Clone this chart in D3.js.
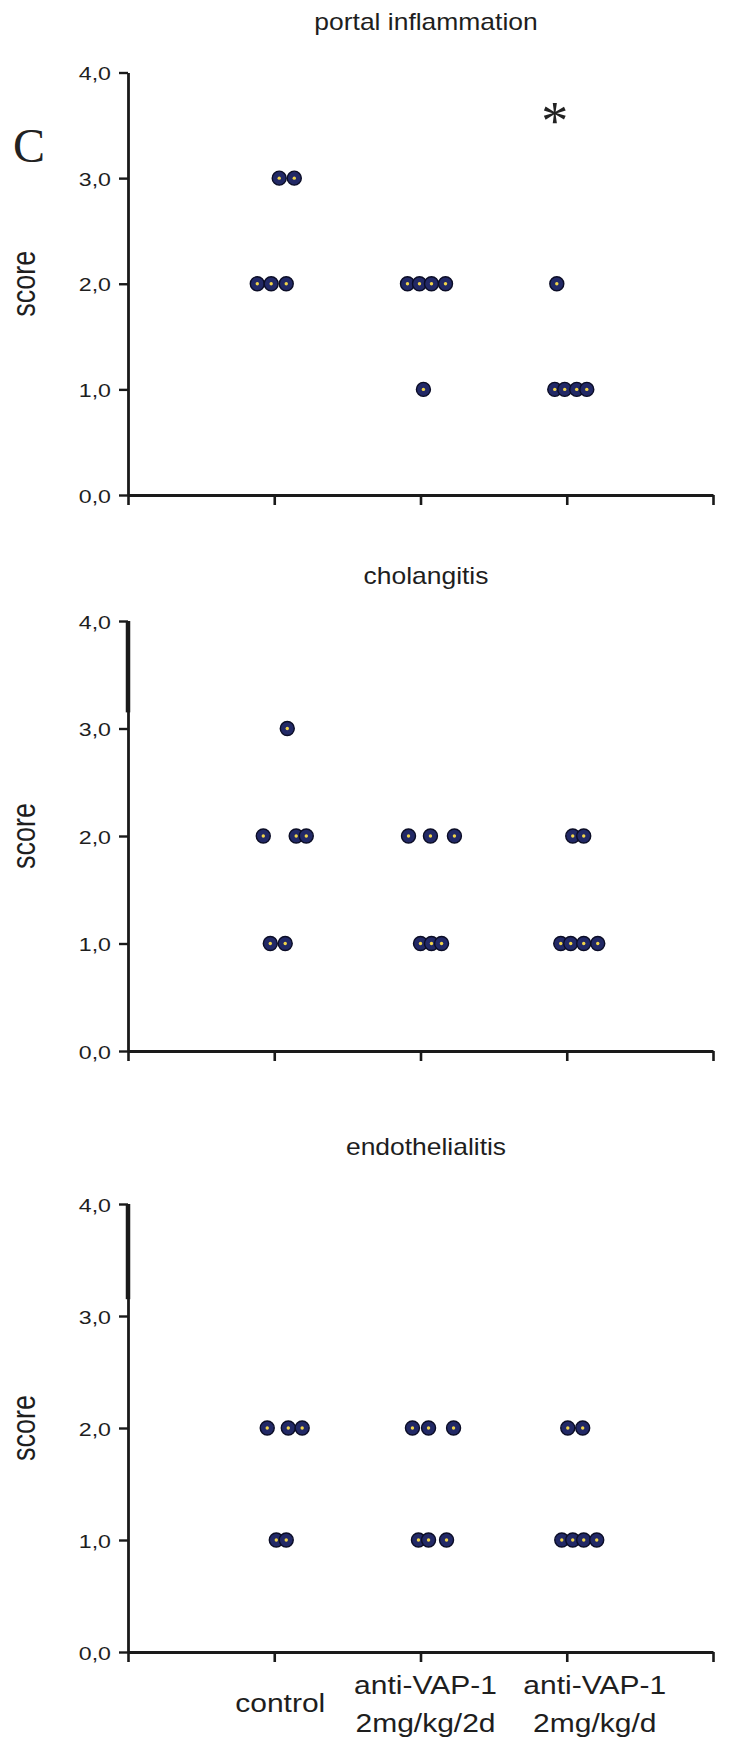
<!DOCTYPE html>
<html>
<head>
<meta charset="utf-8">
<script src="https://cdn.jsdelivr.net/npm/d3@7"></script>
<style>
  html, body { margin: 0; padding: 0; background: #fff; }
  svg { display: block; }
  text { font-family: "Liberation Sans", Arial, sans-serif; fill: #1e1e1e; }
</style>
</head>
<body>
<div id="chart"></div>
<script>
// ---------- data ----------
const categories = ["control", "anti-VAP-1", "anti-VAP-1"];
const categorySub = ["", "2mg/kg/2d", "2mg/kg/d"];
const panelTitles = ["portal inflammation", "cholangitis", "endothelialitis"];
const yTicks = [0, 1, 2, 3, 4];
const xTicks = [0, 1, 2, 3, 4];

// each point: group (1..3), score, horizontal jitter (in category units)
const portalGroup  = [1, 1, 1, 1, 1, 2, 2, 2, 2, 2, 3, 3, 3, 3, 3];
const portalScore  = [3, 3, 2, 2, 2, 2, 2, 2, 2, 1, 2, 1, 1, 1, 1];
const portalJitter = [0.034, 0.137, -0.116, -0.021, 0.082, -0.089, -0.007, 0.075, 0.171, 0.02, -0.068, -0.082, -0.014, 0.068, 0.137];

const cholGroup  = [1, 1, 1, 1, 1, 1, 2, 2, 2, 2, 2, 2, 3, 3, 3, 3, 3, 3];
const cholScore  = [3, 2, 2, 2, 1, 1, 2, 2, 2, 1, 1, 1, 2, 2, 1, 1, 1, 1];
const cholJitter = [0.089, -0.075, 0.150, 0.219, -0.027, 0.075, -0.082, 0.068, 0.232, 0.0, 0.075, 0.144, 0.041, 0.116, -0.041, 0.027, 0.116, 0.212];

const endoGroup  = [1, 1, 1, 1, 1, 2, 2, 2, 2, 2, 2, 3, 3, 3, 3, 3, 3];
const endoScore  = [2, 2, 2, 1, 1, 2, 2, 2, 1, 1, 1, 2, 2, 1, 1, 1, 1];
const endoJitter = [-0.048, 0.096, 0.191, 0.014, 0.082, -0.055, 0.055, 0.226, -0.014, 0.055, 0.178, 0.007, 0.109, -0.034, 0.041, 0.116, 0.205];

const significance = ["", "", "*"]; // portal inflammation, marked on group 3

// ---------- layout ----------
const W = 734, H = 1743;
const STRETCH = 1.2;
const panels = [
  { title: panelTitles[0], group: portalGroup, score: portalScore, jitter: portalJitter, y0: 495, y4: 72.5, titleY: 30, thick: false },
  { title: panelTitles[1], group: cholGroup, score: cholScore, jitter: cholJitter, y0: 1051, y4: 621, titleY: 584, thick: true },
  { title: panelTitles[2], group: endoGroup, score: endoScore, jitter: endoJitter, y0: 1652, y4: 1204, titleY: 1155, thick: true }
];

const svg = d3.select("#chart").append("svg").attr("width", W).attr("height", H);

const x = d3.scaleLinear().domain([0, 4]).range([128, 713]);
const fmt = d3.formatLocale({ decimal: ",", thousands: ".", grouping: [3], currency: ["", ""] }).format(".1f");

function stretchedText(g, tx, ty, str, size, anchor, k) {
  return g.append("text")
    .attr("transform", `translate(${tx},${ty}) scale(${k || STRETCH},1)`)
    .attr("text-anchor", anchor)
    .style("font-size", size + "px")
    .text(str);
}

panels.forEach((p, pi) => {
  const y = d3.scaleLinear().domain([0, 4]).range([p.y0, p.y4]);
  const g = svg.append("g");

  // title
  stretchedText(g, 426, p.titleY, p.title, 23, "middle", 1.15);

  // y-axis
  const ya = g.append("g").attr("transform", `translate(${x(0)},0)`)
    .call(d3.axisLeft(y).tickValues(yTicks).tickSize(9).tickSizeOuter(0).tickFormat(fmt));
  ya.select(".domain").attr("stroke", "#1a1a1a").attr("stroke-width", 2.8);
  ya.selectAll(".tick line").attr("stroke", "#1a1a1a").attr("stroke-width", 2.4);
  ya.selectAll(".tick text")
    .attr("x", null).attr("dy", null)
    .attr("transform", `translate(-17,7) scale(1.22,1)`)
    .attr("fill", "#222")
    .style("font-size", "19px")
    .style("font-family", '"Liberation Sans", Arial, sans-serif');

  if (p.thick) {
    g.append("line")
      .attr("x1", x(0)).attr("x2", x(0))
      .attr("y1", y(4)).attr("y2", y(3.15))
      .attr("stroke", "#1a1a1a").attr("stroke-width", 4.5);
  }

  // x-axis
  const xa = g.append("g").attr("transform", `translate(0,${p.y0})`)
    .call(d3.axisBottom(x).tickValues(xTicks).tickSize(10).tickSizeOuter(0).tickFormat(""));
  xa.select(".domain").attr("stroke", "#1a1a1a").attr("stroke-width", 2.8);
  xa.selectAll(".tick line").attr("stroke", "#1a1a1a").attr("stroke-width", 2.6);

  // y label
  g.append("text")
    .attr("transform", `translate(35,${y(2)}) scale(${STRETCH},1) rotate(-90)`)
    .attr("text-anchor", "middle")
    .style("font-size", "27px")
    .text("score");

  // points
  const pts = p.group.map((gr, i) => ({ gx: gr + p.jitter[i], s: p.score[i] }));
  const dots = g.append("g").selectAll("g.pt").data(pts).join("g").attr("class", "pt")
    .attr("transform", d => `translate(${x(d.gx)},${y(d.s)})`);
  dots.append("circle").attr("r", 7)
    .attr("fill", "#222966").attr("stroke", "#0b0d26").attr("stroke-width", 1.4);
  dots.append("circle").attr("r", 1.7).attr("fill", "#f2d54a");

  // significance
  if (pi === 0) {
    significance.forEach((s, i) => {
      if (!s) return;
      g.append("text")
        .attr("x", x(i + 1) - 12).attr("y", y(3.6) + 24)
        .attr("text-anchor", "middle")
        .style("font-family", '"Liberation Serif", "Times New Roman", serif')
        .style("font-size", "54px")
        .style("fill", "#222")
        .text(s);
    });
    g.append("text")
      .attr("x", 13).attr("y", 162)
      .style("font-family", '"Liberation Serif", "Times New Roman", serif')
      .style("font-size", "48px")
      .style("fill", "#222")
      .text("C");
  }

  // category labels on last panel
  if (pi === panels.length - 1) {
    const offs = [6, 5, 28];
    categories.forEach((c, i) => {
      const cx = x(i + 1) + offs[i];
      if (categorySub[i]) {
        stretchedText(g, cx, p.y0 + 42, c, 25, "middle");
        stretchedText(g, cx, p.y0 + 80, categorySub[i], 25, "middle");
      } else {
        stretchedText(g, cx, p.y0 + 60, c, 25, "middle");
      }
    });
  }
});
</script>
</body>
</html>
